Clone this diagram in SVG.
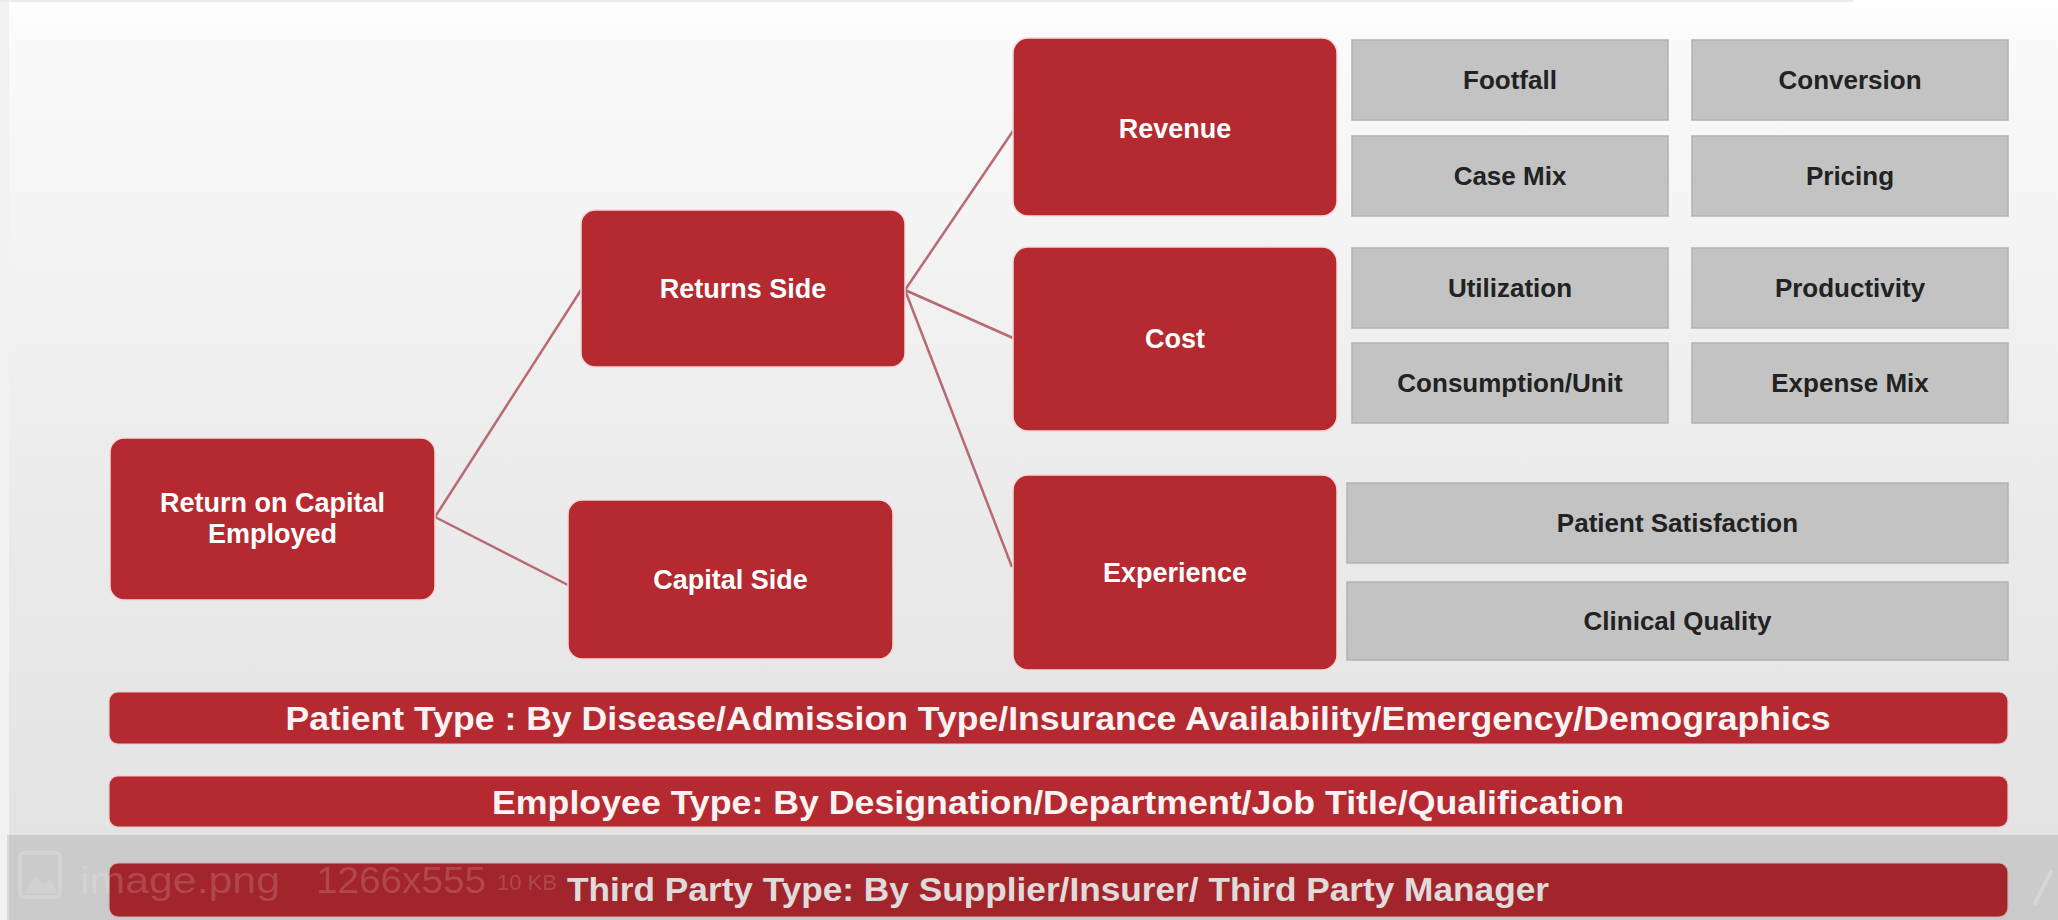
<svg xmlns="http://www.w3.org/2000/svg" width="2058" height="920" viewBox="0 0 2058 920">
  <defs>
    <linearGradient id="bg" x1="0" y1="0" x2="0" y2="1">
      <stop offset="0" stop-color="#ffffff"/>
      <stop offset="0.04" stop-color="#fafafa"/>
      <stop offset="0.5" stop-color="#ececec"/>
      <stop offset="1" stop-color="#e1e1e1"/>
    </linearGradient>
    <style>
      .red { fill: #b42a30; stroke: #f3d9d9; stroke-width: 1.5; }
      .bar { fill: #b42a30; stroke: #e9c9c9; stroke-width: 1.2; }
      .grey { fill: #c3c3c3; stroke: #b2b2b2; stroke-width: 1.5; }
      .wt { font-family: "Liberation Sans", Arial, sans-serif; font-weight: bold; font-size: 27px; fill: #ffffff; text-anchor: middle; }
      .dk { font-family: "Liberation Sans", Arial, sans-serif; font-weight: bold; font-size: 26px; fill: #222222; text-anchor: middle; }
      .bt { font-family: "Liberation Sans", Arial, sans-serif; font-weight: bold; font-size: 33px; fill: #fbf3f3; text-anchor: middle; }
      .conn line { stroke: #b86a70; stroke-width: 2.5; }
      .ov { font-family: "Liberation Sans", Arial, sans-serif; font-size: 36px; fill: #ffffff; fill-opacity: 0.16; }
      .ov.small { font-size: 22px; }
    </style>
  </defs>

  <!-- canvas -->
  <rect x="0" y="0" width="2058" height="920" fill="url(#bg)"/>
  <rect x="0" y="0" width="9" height="920" fill="#f1f1f1"/>
  <rect x="0" y="0" width="1853" height="2" fill="#ebebeb"/>

  <!-- connectors -->
  <g id="connectors" class="conn">
    <line x1="435" y1="517" x2="581" y2="290"/>
    <line x1="435" y1="517" x2="568" y2="585"/>
    <line x1="905" y1="290" x2="1013" y2="131"/>
    <line x1="905" y1="290" x2="1013" y2="338"/>
    <line x1="905" y1="290" x2="1012" y2="567"/>
  </g>

  <!-- red nodes -->
  <g id="roce">
    <rect class="red" x="110" y="438" width="325" height="162" rx="14"/>
    <text class="wt" x="272.5" y="512">Return on Capital</text>
    <text class="wt" x="272.5" y="543">Employed</text>
  </g>
  <g id="returns-side">
    <rect class="red" x="581" y="210" width="324" height="157" rx="14"/>
    <text class="wt" x="743" y="298">Returns Side</text>
  </g>
  <g id="capital-side">
    <rect class="red" x="568" y="500" width="325" height="159" rx="14"/>
    <text class="wt" x="730.5" y="589">Capital Side</text>
  </g>
  <g id="revenue">
    <rect class="red" x="1013" y="38" width="324" height="178" rx="15"/>
    <text class="wt" x="1175" y="138">Revenue</text>
  </g>
  <g id="cost">
    <rect class="red" x="1013" y="247" width="324" height="184" rx="15"/>
    <text class="wt" x="1175" y="348">Cost</text>
  </g>
  <g id="experience">
    <rect class="red" x="1013" y="475" width="324" height="195" rx="15"/>
    <text class="wt" x="1175" y="582">Experience</text>
  </g>

  <!-- grey driver boxes -->
  <g id="footfall">
    <rect class="grey" x="1352" y="40" width="316" height="80"/>
    <text class="dk" x="1510" y="89">Footfall</text>
  </g>
  <g id="conversion">
    <rect class="grey" x="1692" y="40" width="316" height="80"/>
    <text class="dk" x="1850" y="89">Conversion</text>
  </g>
  <g id="case-mix">
    <rect class="grey" x="1352" y="136" width="316" height="80"/>
    <text class="dk" x="1510" y="185">Case Mix</text>
  </g>
  <g id="pricing">
    <rect class="grey" x="1692" y="136" width="316" height="80"/>
    <text class="dk" x="1850" y="185">Pricing</text>
  </g>
  <g id="utilization">
    <rect class="grey" x="1352" y="248" width="316" height="80"/>
    <text class="dk" x="1510" y="297">Utilization</text>
  </g>
  <g id="productivity">
    <rect class="grey" x="1692" y="248" width="316" height="80"/>
    <text class="dk" x="1850" y="297">Productivity</text>
  </g>
  <g id="consumption-unit">
    <rect class="grey" x="1352" y="343" width="316" height="80"/>
    <text class="dk" x="1510" y="392">Consumption/Unit</text>
  </g>
  <g id="expense-mix">
    <rect class="grey" x="1692" y="343" width="316" height="80"/>
    <text class="dk" x="1850" y="392">Expense Mix</text>
  </g>
  <g id="patient-satisfaction">
    <rect class="grey" x="1347" y="483" width="661" height="80"/>
    <text class="dk" x="1677.5" y="532">Patient Satisfaction</text>
  </g>
  <g id="clinical-quality">
    <rect class="grey" x="1347" y="582" width="661" height="78"/>
    <text class="dk" x="1677.5" y="630">Clinical Quality</text>
  </g>

  <!-- segmentation bars -->
  <g id="patient-type">
    <rect class="bar" x="109" y="692" width="1899" height="52" rx="9"/>
    <text class="bt" x="1058" y="730" textLength="1545" lengthAdjust="spacingAndGlyphs">Patient Type : By Disease/Admission Type/Insurance Availability/Emergency/Demographics</text>
  </g>
  <g id="employee-type">
    <rect class="bar" x="109" y="776" width="1899" height="51" rx="9"/>
    <text class="bt" x="1058" y="814" textLength="1132" lengthAdjust="spacingAndGlyphs">Employee Type: By Designation/Department/Job Title/Qualification</text>
  </g>
  <g id="third-party-type">
    <rect class="bar" x="109" y="863" width="1899" height="54" rx="9"/>
    <text class="bt" x="1058" y="901" textLength="982" lengthAdjust="spacingAndGlyphs">Third Party Type: By Supplier/Insurer/ Third Party Manager</text>
  </g>

  <!-- viewer caption strip along the bottom -->
  <g id="caption-strip">
    <rect x="7" y="835" width="2051" height="85" fill="#000000" fill-opacity="0.1"/>
    <rect x="20" y="853" width="40" height="44" rx="3" fill="none" stroke="#ffffff" stroke-opacity="0.16" stroke-width="4"/>
    <path d="M24 893 L36 877 L44 885 L50 879 L58 893 Z" fill="#ffffff" fill-opacity="0.13"/>
    <text class="ov" x="80" y="893" textLength="200" lengthAdjust="spacingAndGlyphs">image.png</text>
    <text class="ov" x="316" y="893" textLength="170" lengthAdjust="spacingAndGlyphs">1266x555</text>
    <text class="ov small" x="497" y="890">10 KB</text>
    <path d="M2034 905 L2052 870" stroke="#ffffff" stroke-opacity="0.22" stroke-width="4" fill="none"/>
  </g>
</svg>
